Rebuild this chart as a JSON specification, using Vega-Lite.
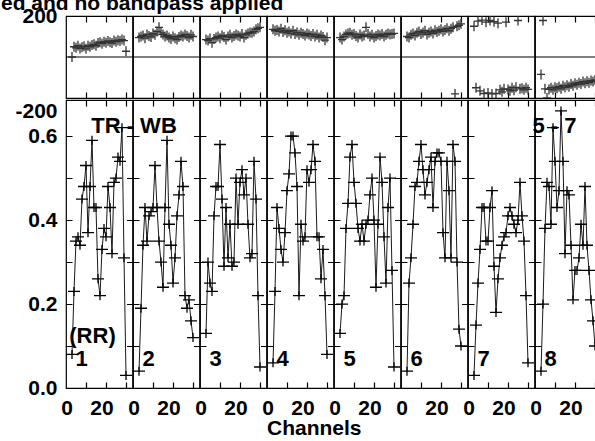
{
"$schema": "https://vega.github.io/schema/vega-lite/v6.json",
"usermeta": {"embedOptions": {"actions": false}},
"autosize": {"type": "pad"},
"padding": {"left": 0, "top": -7, "right": -3, "bottom": 0},
"background": "white",
"title": {"text": "ed and no bandpass applied", "anchor": "start", "dx": -14, "offset": -9, "fontSize": 21, "font": "Liberation Sans", "fontWeight": "bold", "color": "black"},
"data": {"values": [
{"panel":1,"ch":3,"amp":0.08,"phase":0},{"panel":1,"ch":4,"amp":0.23,"phase":50},{"panel":1,"ch":5,"amp":0.35,"phase":45},{"panel":1,"ch":6,"amp":0.36,"phase":55},{"panel":1,"ch":7,"amp":0.34,"phase":42},{"panel":1,"ch":8,"amp":0.45,"phase":48},{"panel":1,"ch":9,"amp":0.48,"phase":52},{"panel":1,"ch":10,"amp":0.53,"phase":40},{"panel":1,"ch":11,"amp":0.37,"phase":55},{"panel":1,"ch":12,"amp":0.48,"phase":50},{"panel":1,"ch":13,"amp":0.59,"phase":58},{"panel":1,"ch":14,"amp":0.43,"phase":62},{"panel":1,"ch":15,"amp":0.43,"phase":55},{"panel":1,"ch":16,"amp":0.26,"phase":68},{"panel":1,"ch":17,"amp":0.22,"phase":72},{"panel":1,"ch":18,"amp":0.33,"phase":65},{"panel":1,"ch":19,"amp":0.38,"phase":75},{"panel":1,"ch":20,"amp":0.36,"phase":70},{"panel":1,"ch":21,"amp":0.48,"phase":78},{"panel":1,"ch":22,"amp":0.43,"phase":72},{"panel":1,"ch":23,"amp":0.32,"phase":68},{"panel":1,"ch":24,"amp":0.49,"phase":80},{"panel":1,"ch":25,"amp":0.50,"phase":75},{"panel":1,"ch":26,"amp":0.55,"phase":82},{"panel":1,"ch":27,"amp":0.54,"phase":78},{"panel":1,"ch":28,"amp":0.62,"phase":85},{"panel":1,"ch":29,"amp":0.31,"phase":80},{"panel":1,"ch":30,"amp":0.03,"phase":28},
{"panel":2,"ch":3,"amp":0.04,"phase":95},{"panel":2,"ch":4,"amp":0.19,"phase":100},{"panel":2,"ch":5,"amp":0.34,"phase":105},{"panel":2,"ch":6,"amp":0.43,"phase":92},{"panel":2,"ch":7,"amp":0.35,"phase":110},{"panel":2,"ch":8,"amp":0.41,"phase":102},{"panel":2,"ch":9,"amp":0.42,"phase":98},{"panel":2,"ch":10,"amp":0.43,"phase":115},{"panel":2,"ch":11,"amp":0.53,"phase":108},{"panel":2,"ch":12,"amp":0.43,"phase":125},{"panel":2,"ch":13,"amp":0.35,"phase":145},{"panel":2,"ch":14,"amp":0.30,"phase":118},{"panel":2,"ch":15,"amp":0.24,"phase":110},{"panel":2,"ch":16,"amp":0.43,"phase":100},{"panel":2,"ch":17,"amp":0.59,"phase":105},{"panel":2,"ch":18,"amp":0.39,"phase":95},{"panel":2,"ch":19,"amp":0.34,"phase":88},{"panel":2,"ch":20,"amp":0.25,"phase":100},{"panel":2,"ch":21,"amp":0.31,"phase":92},{"panel":2,"ch":22,"amp":0.41,"phase":85},{"panel":2,"ch":23,"amp":0.46,"phase":98},{"panel":2,"ch":24,"amp":0.54,"phase":105},{"panel":2,"ch":25,"amp":0.48,"phase":100},{"panel":2,"ch":26,"amp":0.22,"phase":110},{"panel":2,"ch":27,"amp":0.19,"phase":102},{"panel":2,"ch":28,"amp":0.21,"phase":95},{"panel":2,"ch":29,"amp":0.16,"phase":108},{"panel":2,"ch":30,"amp":0.12,"phase":100},
{"panel":3,"ch":3,"amp":0.13,"phase":85},{"panel":3,"ch":4,"amp":0.30,"phase":80},{"panel":3,"ch":5,"amp":0.25,"phase":90},{"panel":3,"ch":6,"amp":0.23,"phase":70},{"panel":3,"ch":7,"amp":0.41,"phase":88},{"panel":3,"ch":8,"amp":0.48,"phase":95},{"panel":3,"ch":9,"amp":0.48,"phase":100},{"panel":3,"ch":10,"amp":0.58,"phase":92},{"panel":3,"ch":11,"amp":0.45,"phase":105},{"panel":3,"ch":12,"amp":0.29,"phase":98},{"panel":3,"ch":13,"amp":0.43,"phase":85},{"panel":3,"ch":14,"amp":0.31,"phase":100},{"panel":3,"ch":15,"amp":0.39,"phase":108},{"panel":3,"ch":16,"amp":0.29,"phase":95},{"panel":3,"ch":17,"amp":0.30,"phase":102},{"panel":3,"ch":18,"amp":0.50,"phase":110},{"panel":3,"ch":19,"amp":0.39,"phase":105},{"panel":3,"ch":20,"amp":0.49,"phase":100},{"panel":3,"ch":21,"amp":0.52,"phase":112},{"panel":3,"ch":22,"amp":0.46,"phase":95},{"panel":3,"ch":23,"amp":0.50,"phase":108},{"panel":3,"ch":24,"amp":0.39,"phase":115},{"panel":3,"ch":25,"amp":0.31,"phase":120},{"panel":3,"ch":26,"amp":0.32,"phase":118},{"panel":3,"ch":27,"amp":0.54,"phase":125},{"panel":3,"ch":28,"amp":0.45,"phase":135},{"panel":3,"ch":29,"amp":0.22,"phase":140},{"panel":3,"ch":30,"amp":0.05,"phase":145},
{"panel":4,"ch":3,"amp":0.06,"phase":135},{"panel":4,"ch":4,"amp":0.23,"phase":128},{"panel":4,"ch":5,"amp":0.43,"phase":132},{"panel":4,"ch":6,"amp":0.38,"phase":125},{"panel":4,"ch":7,"amp":0.33,"phase":138},{"panel":4,"ch":8,"amp":0.30,"phase":122},{"panel":4,"ch":9,"amp":0.37,"phase":130},{"panel":4,"ch":10,"amp":0.47,"phase":118},{"panel":4,"ch":11,"amp":0.51,"phase":125},{"panel":4,"ch":12,"amp":0.60,"phase":115},{"panel":4,"ch":13,"amp":0.60,"phase":128},{"panel":4,"ch":14,"amp":0.56,"phase":112},{"panel":4,"ch":15,"amp":0.48,"phase":120},{"panel":4,"ch":16,"amp":0.22,"phase":108},{"panel":4,"ch":17,"amp":0.39,"phase":118},{"panel":4,"ch":18,"amp":0.35,"phase":112},{"panel":4,"ch":19,"amp":0.36,"phase":105},{"panel":4,"ch":20,"amp":0.52,"phase":115},{"panel":4,"ch":21,"amp":0.49,"phase":110},{"panel":4,"ch":22,"amp":0.52,"phase":102},{"panel":4,"ch":23,"amp":0.58,"phase":112},{"panel":4,"ch":24,"amp":0.54,"phase":100},{"panel":4,"ch":25,"amp":0.36,"phase":108},{"panel":4,"ch":26,"amp":0.36,"phase":95},{"panel":4,"ch":27,"amp":0.26,"phase":105},{"panel":4,"ch":28,"amp":0.33,"phase":98},{"panel":4,"ch":29,"amp":0.22,"phase":82},{"panel":4,"ch":30,"amp":0.08,"phase":95},
{"panel":5,"ch":3,"amp":0.13,"phase":95},{"panel":5,"ch":4,"amp":0.20,"phase":85},{"panel":5,"ch":5,"amp":0.22,"phase":100},{"panel":5,"ch":6,"amp":0.38,"phase":110},{"panel":5,"ch":7,"amp":0.44,"phase":115},{"panel":5,"ch":8,"amp":0.55,"phase":118},{"panel":5,"ch":9,"amp":0.58,"phase":108},{"panel":5,"ch":10,"amp":0.49,"phase":112},{"panel":5,"ch":11,"amp":0.44,"phase":102},{"panel":5,"ch":12,"amp":0.38,"phase":95},{"panel":5,"ch":13,"amp":0.35,"phase":110},{"panel":5,"ch":14,"amp":0.39,"phase":100},{"panel":5,"ch":15,"amp":0.35,"phase":105},{"panel":5,"ch":16,"amp":0.39,"phase":145},{"panel":5,"ch":17,"amp":0.40,"phase":112},{"panel":5,"ch":18,"amp":0.46,"phase":100},{"panel":5,"ch":19,"amp":0.50,"phase":108},{"panel":5,"ch":20,"amp":0.40,"phase":95},{"panel":5,"ch":21,"amp":0.24,"phase":102},{"panel":5,"ch":22,"amp":0.39,"phase":110},{"panel":5,"ch":23,"amp":0.55,"phase":105},{"panel":5,"ch":24,"amp":0.49,"phase":112},{"panel":5,"ch":25,"amp":0.36,"phase":100},{"panel":5,"ch":26,"amp":0.25,"phase":108},{"panel":5,"ch":27,"amp":0.43,"phase":115},{"panel":5,"ch":28,"amp":0.50,"phase":110},{"panel":5,"ch":29,"amp":0.28,"phase":112},{"panel":5,"ch":30,"amp":0.05,"phase":115},
{"panel":6,"ch":3,"amp":0.04,"phase":100},{"panel":6,"ch":4,"amp":0.25,"phase":95},{"panel":6,"ch":5,"amp":0.31,"phase":108},{"panel":6,"ch":6,"amp":0.39,"phase":115},{"panel":6,"ch":7,"amp":0.48,"phase":105},{"panel":6,"ch":8,"amp":0.49,"phase":118},{"panel":6,"ch":9,"amp":0.54,"phase":125},{"panel":6,"ch":10,"amp":0.58,"phase":112},{"panel":6,"ch":11,"amp":0.52,"phase":120},{"panel":6,"ch":12,"amp":0.46,"phase":128},{"panel":6,"ch":13,"amp":0.49,"phase":110},{"panel":6,"ch":14,"amp":0.52,"phase":118},{"panel":6,"ch":15,"amp":0.55,"phase":125},{"panel":6,"ch":16,"amp":0.43,"phase":115},{"panel":6,"ch":17,"amp":0.54,"phase":130},{"panel":6,"ch":18,"amp":0.56,"phase":122},{"panel":6,"ch":19,"amp":0.56,"phase":128},{"panel":6,"ch":20,"amp":0.54,"phase":135},{"panel":6,"ch":21,"amp":0.37,"phase":125},{"panel":6,"ch":22,"amp":0.31,"phase":132},{"panel":6,"ch":23,"amp":0.54,"phase":140},{"panel":6,"ch":24,"amp":0.47,"phase":128},{"panel":6,"ch":25,"amp":0.31,"phase":138},{"panel":6,"ch":26,"amp":0.58,"phase":145},{"panel":6,"ch":27,"amp":0.54,"phase":-180},{"panel":6,"ch":28,"amp":0.30,"phase":150},{"panel":6,"ch":29,"amp":0.14,"phase":155},{"panel":6,"ch":30,"amp":0.10,"phase":162},
{"panel":7,"ch":3,"amp":0.03,"phase":150},{"panel":7,"ch":4,"amp":0.15,"phase":-150},{"panel":7,"ch":5,"amp":0.25,"phase":175},{"panel":7,"ch":6,"amp":0.33,"phase":-165},{"panel":7,"ch":7,"amp":0.43,"phase":180},{"panel":7,"ch":8,"amp":0.43,"phase":-178},{"panel":7,"ch":9,"amp":0.35,"phase":170},{"panel":7,"ch":10,"amp":0.35,"phase":-175},{"panel":7,"ch":11,"amp":0.43,"phase":178},{"panel":7,"ch":12,"amp":0.47,"phase":-180},{"panel":7,"ch":13,"amp":0.29,"phase":172},{"panel":7,"ch":14,"amp":0.18,"phase":-178},{"panel":7,"ch":15,"amp":0.26,"phase":165},{"panel":7,"ch":16,"amp":0.31,"phase":-160},{"panel":7,"ch":17,"amp":0.34,"phase":-170},{"panel":7,"ch":18,"amp":0.36,"phase":-155},{"panel":7,"ch":19,"amp":0.37,"phase":170},{"panel":7,"ch":20,"amp":0.41,"phase":-158},{"panel":7,"ch":21,"amp":0.43,"phase":-165},{"panel":7,"ch":22,"amp":0.41,"phase":-150},{"panel":7,"ch":23,"amp":0.39,"phase":-162},{"panel":7,"ch":24,"amp":0.37,"phase":-148},{"panel":7,"ch":25,"amp":0.40,"phase":178},{"panel":7,"ch":26,"amp":0.49,"phase":-155},{"panel":7,"ch":27,"amp":0.41,"phase":-152},{"panel":7,"ch":28,"amp":0.35,"phase":-160},{"panel":7,"ch":29,"amp":0.22,"phase":-150},{"panel":7,"ch":30,"amp":0.06,"phase":-158},
{"panel":8,"ch":3,"amp":0.04,"phase":-85},{"panel":8,"ch":4,"amp":0.20,"phase":178},{"panel":8,"ch":5,"amp":0.38,"phase":-155},{"panel":8,"ch":6,"amp":0.49,"phase":-200},{"panel":8,"ch":7,"amp":0.48,"phase":-158},{"panel":8,"ch":8,"amp":0.39,"phase":-150},{"panel":8,"ch":9,"amp":0.62,"phase":-160},{"panel":8,"ch":10,"amp":0.54,"phase":-148},{"panel":8,"ch":11,"amp":0.43,"phase":-152},{"panel":8,"ch":12,"amp":0.47,"phase":-145},{"panel":8,"ch":13,"amp":0.66,"phase":-155},{"panel":8,"ch":14,"amp":0.54,"phase":-140},{"panel":8,"ch":15,"amp":0.32,"phase":-148},{"panel":8,"ch":16,"amp":0.47,"phase":-138},{"panel":8,"ch":17,"amp":0.46,"phase":-145},{"panel":8,"ch":18,"amp":0.34,"phase":-132},{"panel":8,"ch":19,"amp":0.21,"phase":-140},{"panel":8,"ch":20,"amp":0.28,"phase":-128},{"panel":8,"ch":21,"amp":0.28,"phase":-135},{"panel":8,"ch":22,"amp":0.31,"phase":-125},{"panel":8,"ch":23,"amp":0.39,"phase":-132},{"panel":8,"ch":24,"amp":0.34,"phase":-120},{"panel":8,"ch":25,"amp":0.48,"phase":-128},{"panel":8,"ch":26,"amp":0.34,"phase":-118},{"panel":8,"ch":27,"amp":0.28,"phase":-125},{"panel":8,"ch":28,"amp":0.21,"phase":-115},{"panel":8,"ch":29,"amp":0.16,"phase":-120},{"panel":8,"ch":30,"amp":0.10,"phase":-112},
{"panel":1,"ch":34,"amp":0.625,"label":"TR - WB"},
{"panel":8,"ch":9.75,"amp":0.625,"label":"5 - 7"},
{"panel":1,"ch":13.25,"amp":0.125,"label":"(RR)"},
{"panel":1,"ch":7.75,"amp":0.068,"label":"1"},
{"panel":2,"ch":7.75,"amp":0.068,"label":"2"},
{"panel":3,"ch":7.75,"amp":0.068,"label":"3"},
{"panel":4,"ch":7.75,"amp":0.068,"label":"4"},
{"panel":5,"ch":7.75,"amp":0.068,"label":"5"},
{"panel":6,"ch":7.75,"amp":0.068,"label":"6"},
{"panel":7,"ch":7.75,"amp":0.068,"label":"7"},
{"panel":8,"ch":7.75,"amp":0.068,"label":"8"}
]},
"spacing": 0,
"vconcat": [
  {
    "transform": [{"filter": "isValid(datum.phase)"}],
    "facet": {"column": {"field": "panel", "type": "ordinal", "header": {"title": null, "labels": false, "labelPadding": 0, "titlePadding": 0}}},
    "spacing": 0,
    "bounds": "flush",
    "spec": {
      "width": 66.5,
      "height": 82,
      "layer": [
        {"transform": [{"filter": "datum.ch == 3"}],
         "mark": {"type": "rule", "color": "black", "strokeWidth": 1},
         "encoding": {"y": {"datum": 0}}},
        {"mark": {"type": "point", "shape": "M-0.8,0H0.8M0,-1V1", "filled": false, "size": 100, "stroke": "#333333", "strokeWidth": 1.3, "opacity": 1, "clip": true},
         "encoding": {
           "x": {"field": "ch", "type": "quantitative", "scale": {"domain": [0, 33.25], "nice": false, "zero": false},
             "axis": {"title": null, "orient": "top", "labels": false, "values": [10, 20, 30], "grid": true, "gridColor": "black", "gridWidth": 1.2, "gridDash": [6, 70, 6], "labelPadding": 0, "minExtent": 0, "maxExtent": 0, "offset": 0}},
           "y": {"field": "phase", "type": "quantitative", "scale": {"domain": [-200, 200], "nice": false, "zero": false},
             "axis": {"title": null, "values": [200], "format": "d", "grid": false, "labelPadding": 9}}}}
      ]
    }
  },
  {
    "facet": {"column": {"field": "panel", "type": "ordinal", "header": {"title": null, "labelOrient": "bottom", "labelExpr": "datum.value == 4 ? 'Channels' : ''", "labelAnchor": "start", "labelAlign": "left", "labelFont": "Liberation Sans", "labelFontSize": 21, "labelFontWeight": "bold", "labelColor": "black", "labelPadding": 0, "labelLimit": 300}}},
    "spacing": 0,
    "bounds": "flush",
    "spec": {
      "width": 66.5,
      "height": 288,
      "encoding": {
        "x": {"field": "ch", "type": "quantitative", "scale": {"domain": [0, 33.25], "nice": false, "zero": false},
          "axis": {"title": null, "values": [0.25, 10, 17.75, 20, 30], "labelExpr": "datum.value < 1 ? '0' : (abs(datum.value - 17.75) < 0.1 ? '20' : '')", "grid": true, "gridColor": "black", "gridWidth": 1.2, "gridDash": [6, 276, 6], "gridOpacity": {"condition": {"test": "datum.value == 10 || datum.value == 20 || datum.value == 30", "value": 1}, "value": 0}, "labelPadding": 9}},
        "y": {"field": "amp", "type": "quantitative", "scale": {"domain": [0, 0.686], "nice": false, "zero": false},
          "axis": {"title": null, "values": [0, 0.1, 0.2, 0.3, 0.4, 0.5, 0.6, 0.686], "labelExpr": "datum.value > 0.65 ? '-200' : (indexof(['0.0','0.2','0.4','0.6'], format(datum.value,'.1f')) >= 0 ? format(datum.value,'.1f') : '')", "labelBaseline": {"condition": {"test": "datum.value > 0.65", "value": "top"}, "value": "middle"}, "grid": true, "gridColor": "black", "gridWidth": 1.2, "gridDash": [6, 54.5], "gridOpacity": {"condition": {"test": "datum.value > 0.65", "value": 0}, "value": 1}, "labelPadding": 9}}
      },
      "layer": [
        {"transform": [{"filter": "!isValid(datum.label)"}],
         "mark": {"type": "line", "color": "#1a1a1a", "strokeWidth": 1}},
        {"transform": [{"filter": "!isValid(datum.label)"}],
         "mark": {"type": "point", "shape": "M-1,0H1M0,-0.75V0.75", "filled": false, "size": 144, "stroke": "black", "strokeWidth": 1.3, "opacity": 1}},
        {"transform": [{"filter": "isValid(datum.label)"}],
         "mark": {"type": "text", "font": "Liberation Sans", "fontWeight": "bold", "fontSize": 22, "color": "black", "align": "center", "baseline": "middle"},
         "encoding": {"text": {"field": "label"}}}
      ]
    }
  }
],
"config": {
  "view": {"stroke": "black", "strokeWidth": 1.2},
  "axis": {"domain": false, "ticks": false, "labelFont": "Liberation Sans", "labelFontSize": 21, "labelFontWeight": "bold", "labelColor": "black", "labelFlush": false, "labelOverlap": false}
}
}
